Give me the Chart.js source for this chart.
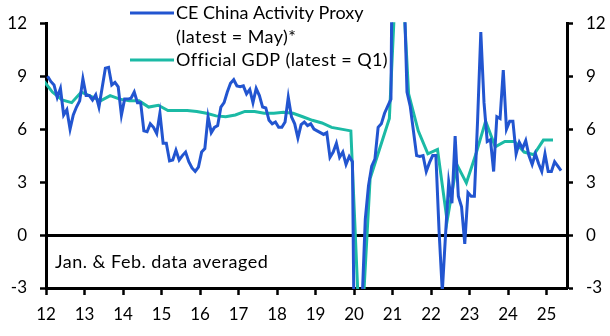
<!DOCTYPE html>
<html>
<head>
<meta charset="utf-8">
<script src="https://cdn.jsdelivr.net/npm/chart.js@4.4.1/dist/chart.umd.min.js"></script>
<style>
  html, body { margin: 0; padding: 0; background: #fff; }
  #wrap { width: 610px; height: 336px; }
</style>
</head>
<body>
<div id="wrap"><canvas id="chart" width="610" height="336"></canvas></div>
<script>
// CE China Activity Proxy (% y/y), monthly from Jan 2012 to May 2025
const activityProxy = [
  9.0, 8.7, 8.5, 7.8, 8.3, 6.8, 7.1, 6.0, 6.8, 7.25, 7.6, 8.85,      // 2012
  7.9, 7.9, 7.65, 7.95, 7.25, 8.35, 9.45, 9.5, 8.5, 8.65, 8.4, 6.8,   // 2013
  7.7, 7.7, 7.75, 8.1, 7.5, 7.5, 5.9, 5.85, 6.3, 6.1, 5.75, 6.9,      // 2014
  5.2, 5.2, 4.2, 4.25, 4.8, 4.25, 4.5, 4.7, 4.15, 3.8, 3.6, 3.85,     // 2015
  4.7, 4.9, 6.7, 5.8, 6.1, 6.2, 7.25, 7.5, 8.1, 8.6, 8.8, 8.45,       // 2016
  8.4, 8.45, 8.0, 8.25, 7.5, 8.3, 7.9, 7.25, 7.2, 6.5, 6.3, 6.4,      // 2017
  6.1, 6.1, 6.4, 7.8, 6.7, 6.3, 5.5, 6.25, 6.4, 6.2, 6.3, 6.0,        // 2018
  5.9, 5.8, 5.7, 5.8, 4.4, 4.7, 5.2, 4.4, 4.7, 4.0, 4.45, 4.15,       // 2019
  -14, -14, -3.8, 0.9, 2.8, 3.9, 4.3, 6.1, 6.3, 6.9, 7.3, 7.7,        // 2020
  30, 30, 18, 14.5, 8.1, 7.3, 5.9, 4.5, 4.45, 4.5, 3.6, 4.1,          // 2021
  4.5, 4.5, 0.2, -3.2, 0.0, 3.0, 1.8, 5.6, 2.2, 1.6, -0.5, 2.4,       // 2022
  2.2, 2.2, 6.5, 11.5, 7.5, 5.3, 5.4, 3.6, 6.7, 6.6, 9.35, 6.0,       // 2023
  6.45, 6.45, 4.6, 5.25, 4.9, 5.35, 4.5, 4.0, 4.6, 4.05, 3.6, 4.6,    // 2024
  3.6, 3.6, 4.15, 3.9, 3.65                                           // 2025
];

// Official GDP (% y/y), quarterly from Q4 2011 to Q1 2025
const officialGdp = [
  8.8,
  8.1, 7.65, 7.5, 8.1,
  7.85, 7.6, 7.9, 7.7,
  7.6, 7.6, 7.25, 7.35,
  7.05, 7.05, 7.05, 7.0,
  6.9, 6.75, 6.7, 6.8,
  7.0, 7.0, 6.9, 6.9,
  6.95, 6.9, 6.7, 6.5,
  6.35, 6.1, 6.0, 5.9,
  -6.8, 3.2, 4.9, 6.6,
  18.3, 8.0, 5.9, 4.6,
  4.85, 0.8, 4.0, 2.95,
  4.6, 6.45, 5.0, 5.3,
  5.3, 4.7, 4.55, 5.38,
  5.38
];

const proxyStart = 12;               // Jan 2012, two-digit year
const gdpStart = 11 + 11 / 12;       // Q4 2011
const yearTicks = [12, 13, 14, 15, 16, 17, 18, 19, 20, 21, 22, 23, 24, 25];
const valueTicks = [-3, 0, 3, 6, 9, 12];

const BLUE = '#2255d0';
const TEAL = '#1bbaa5';
const FONT = 'Lato';

const proxyPoints = activityProxy.map((v, i) => ({ x: proxyStart + (i + 0.5) / 12, y: v }));
const gdpPoints = officialGdp.map((v, i) => ({ x: gdpStart + i * 0.25, y: v }));

// legend and footnote, drawn over the plot like the original
const overlayText = {
    id: 'overlayText',
    afterDraw(chart) {
        const ctx = chart.ctx;
        ctx.save();
        ctx.lineWidth = 3;
        ctx.strokeStyle = BLUE;
        ctx.beginPath();
        ctx.moveTo(130, 13);
        ctx.lineTo(174, 13);
        ctx.stroke();
        ctx.strokeStyle = TEAL;
        ctx.beginPath();
        ctx.moveTo(130, 60);
        ctx.lineTo(174, 60);
        ctx.stroke();

        ctx.font = '18px ' + FONT;
        ctx.fillStyle = '#000';
        ctx.textBaseline = 'middle';
        ctx.textAlign = 'left';
        ctx.fillText('CE China Activity Proxy', 176, 13);
        ctx.letterSpacing = '0.4px';
        ctx.fillText('(latest = May)*', 176, 37);
        ctx.fillText('Official GDP (latest = Q1)', 176, 60);
        ctx.letterSpacing = '0.5px';
        ctx.fillText('Jan. & Feb. data averaged', 55, 262);
        ctx.restore();
    }
};

const tickFont = { family: FONT, size: 17 };

new Chart(document.getElementById('chart').getContext('2d'), {
    type: 'line',
    data: {
        datasets: [
            {
                label: 'Official GDP (latest = Q1)',
                data: gdpPoints,
                borderColor: TEAL,
                borderWidth: 3,
                pointRadius: 0,
                tension: 0,
                yAxisID: 'y',
                clip: 1,
                order: 2
            },
            {
                label: 'CE China Activity Proxy',
                data: proxyPoints,
                borderColor: BLUE,
                borderWidth: 3,
                pointRadius: 0,
                tension: 0,
                yAxisID: 'y',
                clip: 1,
                order: 1
            }
        ]
    },
    options: {
        responsive: false,
        animation: false,
        devicePixelRatio: 1,
        layout: { padding: { top: 13, right: 0, left: 0, bottom: 0 } },
        plugins: {
            legend: { display: false },
            tooltip: { enabled: false }
        },
        scales: {
            x: {
                type: 'linear',
                position: 'bottom',
                min: 12,
                max: 25.53,
                afterBuildTicks: scale => { scale.ticks = yearTicks.map(v => ({ value: v })); },
                afterFit: scale => { scale.height = 48; },
                ticks: {
                    font: tickFont,
                    color: '#000',
                    padding: 9,
                    maxRotation: 0,
                    autoSkip: false,
                    callback: v => String(v)
                },
                grid: {
                    display: true,
                    drawOnChartArea: false,
                    drawTicks: true,
                    tickLength: 7,
                    tickColor: '#000',
                    tickWidth: 2.5
                },
                border: { display: true, color: '#000', width: 3 }
            },
            y: {
                position: 'left',
                min: -3,
                max: 12,
                afterBuildTicks: scale => { scale.ticks = valueTicks.map(v => ({ value: v })); },
                afterFit: scale => { scale.width = 46; },
                ticks: { font: tickFont, color: '#000', padding: 13 },
                grid: {
                    display: true,
                    drawOnChartArea: true,
                    color: c => (c.tick && c.tick.value === 0 ? '#000' : 'rgba(0,0,0,0)'),
                    lineWidth: 3,
                    drawTicks: true,
                    tickLength: 6,
                    tickColor: '#000',
                    tickWidth: 2.5
                },
                border: { display: true, color: '#000', width: 3 }
            },
            y2: {
                position: 'right',
                min: -3,
                max: 12,
                afterBuildTicks: scale => { scale.ticks = valueTicks.map(v => ({ value: v })); },
                afterFit: scale => { scale.width = 43; },
                ticks: { font: tickFont, color: '#000', padding: 13 },
                grid: {
                    display: true,
                    drawOnChartArea: false,
                    drawTicks: true,
                    tickLength: 6,
                    tickColor: '#000',
                    tickWidth: 2.5
                },
                border: { display: true, color: '#000', width: 3 }
            }
        }
    },
    plugins: [overlayText]
});
</script>
</body>
</html>
